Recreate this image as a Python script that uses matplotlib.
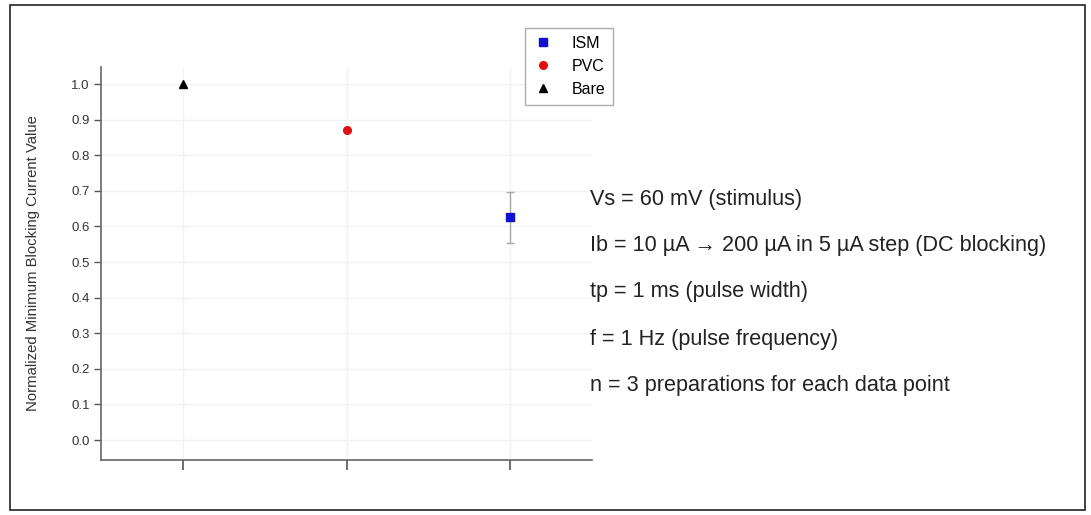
import matplotlib
matplotlib.use("Agg")
import matplotlib.pyplot as plt
from matplotlib.patches import Rectangle

series = ["ISM", "PVC", "Bare"]
x_pos = [3, 2, 1]
values = [0.626, 0.871, 1.0]
errors = [0.072, 0.0, 0.0]
colors = ["#1010d0", "#e01010", "#000000"]
markers = ["s", "o", "^"]
yticks = [0.0, 0.1, 0.2, 0.3, 0.4, 0.5, 0.6, 0.7, 0.8, 0.9, 1.0]
notes = [
    "Vs = 60 mV (stimulus)",
    "Ib = 10 \u00b5A \u2192 200 \u00b5A in 5 \u00b5A step (DC blocking)",
    "tp = 1 ms (pulse width)",
    "f = 1 Hz (pulse frequency)",
    "n = 3 preparations for each data point",
]

plt.rcParams["font.family"] = ["Liberation Sans", "DejaVu Sans"]

W, H = 1091, 515
fig = plt.figure(figsize=(W / 100, H / 100), dpi=100)
ax = fig.add_axes([101 / W, 1 - 460 / H, (592 - 101) / W, (460 - 67) / H])

for xp, v, e, c, m, s in zip(x_pos, values, errors, colors, markers, series):
    if e > 0:
        ax.errorbar(xp, v, yerr=e, fmt="none", ecolor="#a8a8a8", elinewidth=1,
                    capsize=3, capthick=1, zorder=2)
    ax.plot(xp, v, marker=m, linestyle="none", color=c, markersize=5.5, label=s, zorder=3)

ax.set_xlim(0.5, 3.5)
ax.set_ylim(-0.056, 1.048)
ax.set_yticks(yticks)
ax.set_yticklabels([f"{t:.1f}" for t in yticks], fontsize=9.5, color="#333333")
ax.set_xticks([1, 2, 3])
ax.set_xticklabels([])
ax.grid(True, color="#f2f2f2", linewidth=1)
ax.set_axisbelow(True)
for sp in ["top", "right"]:
    ax.spines[sp].set_visible(False)
for sp in ["left", "bottom"]:
    ax.spines[sp].set_color("#666666")
    ax.spines[sp].set_linewidth(1.2)
ax.tick_params(axis="y", direction="out", length=5, width=1, color="#555555", pad=3)
ax.tick_params(axis="x", direction="out", length=7, width=1.2, color="#555555")
ax.set_ylabel("Normalized Minimum Blocking Current Value", fontsize=10.7, color="#333333")
ax.yaxis.set_label_coords((33 - 101) / (592 - 101), 0.5)
ax.yaxis.label.set_va("center")

leg = fig.legend(loc="upper left", bbox_to_anchor=(525 / W, 1 - 28 / H), fontsize=11.5,
                 frameon=True, fancybox=False, edgecolor="#999999", handlelength=1.2,
                 handletextpad=1.2, borderpad=0.5, labelspacing=0.5, borderaxespad=0)
leg.get_frame().set_linewidth(1)

note_y = [200, 246, 292, 340, 385]
for t, yy in zip(notes, note_y):
    fig.text(590 / W, 1 - yy / H, t, fontsize=15.6,
             va="center", ha="left", color="#222222")

fig.patches.append(Rectangle((10 / W, 1 - 510 / H), 1075 / W, 505 / H, transform=fig.transFigure,
                             fill=False, edgecolor="#222222", linewidth=1.2))

fig.savefig("out.png", dpi=100)
